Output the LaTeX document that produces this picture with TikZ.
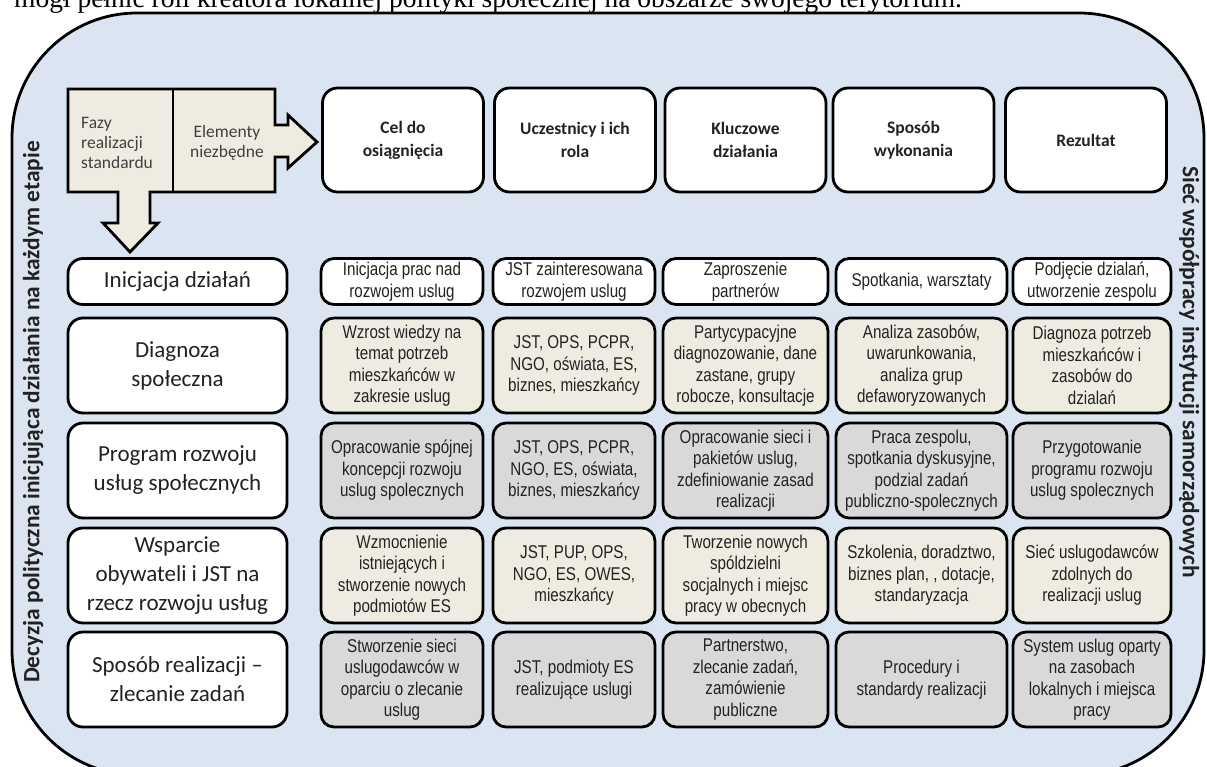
\documentclass[tikz,border=0pt]{standalone}
\usepackage{fontspec}
\setmainfont{Carlito}
\newfontfamily\narrowf[FakeStretch=0.82]{Liberation Sans}
\newfontfamily\seriff{Liberation Serif}
\definecolor{framebg}{HTML}{DBE5F1}
\definecolor{beige}{HTML}{EEECE1}
\definecolor{grayc}{HTML}{D9D9D9}
\definecolor{txt}{HTML}{222222}
\definecolor{fazytxt}{HTML}{404040}
\begin{document}
\begin{tikzpicture}[x=1pt,y=-1pt,
  box/.style={draw=black, line width=2.8pt, rounded corners=15pt, inner sep=0pt, align=center},
  lab/.style={box, fill=white, minimum width=219pt, font=\fontsize{23}{29}\selectfont, text=txt},
  hdr/.style={box, fill=white, minimum width=161pt, minimum height=104pt, font=\bfseries\fontsize{17.5}{23}\selectfont, text=txt},
  cell/.style={box, rounded corners=13pt, font=\narrowf\fontsize{18.5}{21.5}\selectfont, text=txt},
  cw/.style={cell, fill=white},
  cb/.style={cell, fill=beige},
  cg/.style={cell, fill=grayc},
  ca/.style={minimum width=162pt},
  cbw/.style={minimum width=162pt},
  ccw/.style={minimum width=165pt},
  cdw/.style={minimum width=171pt},
  cew/.style={minimum width=158pt},
  r1/.style={minimum height=46pt},
  rr/.style={minimum height=95pt},
  vtxt/.style={font=\bfseries\fontsize{23.4}{26}\selectfont, text=txt, inner sep=0pt}
]
\useasboundingbox (0,0) rectangle (1207,767);
\clip (0,0) rectangle (1207,767);

% outer frame
\draw[fill=framebg, line width=2.8pt, rounded corners=125pt] (12,13) rectangle (1204,775);

% clipped top text line
\node[anchor=base west, inner sep=0pt, font=\seriff\fontsize{27.5}{30}\selectfont] (toptext) at (14,8)
  {mógł pełnić roli kreatora lokalnej polityki społecznej na obszarze swojego terytorium.};

% vertical texts
\node[vtxt, rotate=90] (lefttxt) at (33,412) {Decyzja polityczna inicjująca działania na każdym etapie};
\node[vtxt, rotate=-90] (righttxt) at (1189,372) {Sieć współpracy instytucji samorządowych};

% Fazy / Elementy box with block arrows
\draw[fill=beige, line width=2.8pt, line join=miter]
  (68,89) -- (275,89) -- (275,125) -- (288,125) -- (288,115) -- (317,142) -- (288,168) -- (288,157)
  -- (275,157) -- (275,192) -- (150,192) -- (150,223) -- (158,223) -- (130,252) -- (103,223)
  -- (118,223) -- (118,192) -- (68,192) -- cycle;
\draw[line width=2.8pt] (173,89) -- (173,192);
\node[anchor=west, align=left, inner sep=0pt, font=\fontsize{17.5}{20}\selectfont, text=fazytxt] (fazy) at (81,143)
  {Fazy\\realizacji\\standardu};
\node[align=center, inner sep=0pt, font=\fontsize{17.5}{20}\selectfont, text=fazytxt] (elem) at (227,143)
  {Elementy\\niezbędne};

% header boxes
\node[hdr] (h1) at (403,140) {Cel do\\osiągnięcia};
\node[hdr] (h2) at (575,140) {Uczestnicy i ich\\rola};
\node[hdr] (h3) at (745.5,140) {Kluczowe\\działania};
\node[hdr] (h4) at (913.5,140) {Sposób\\wykonania};
\node[hdr] (h5) at (1086,140) {Rezultat};

% row labels
\node[lab, r1] (l1) at (177.5,281.5) {Inicjacja działań};
\node[lab, rr] (l2) at (177.5,365.5) {Diagnoza\\społeczna};
\node[lab, rr] (l3) at (177.5,470.5) {Program rozwoju\\usług społecznych};
\node[lab, rr] (l4) at (177.5,575.5) {Wsparcie\\obywateli i JST na\\rzecz rozwoju usług};
\node[lab, rr] (l5) at (177.5,679.5) {Sposób realizacji –\\zlecanie zadań};

% row 1
\node[cw, r1, ca]  (c11) at (402,281.5) {Inicjacja prac nad\\rozwojem uslug};
\node[cw, r1, cbw] (c12) at (574,281.5) {JST zainteresowana\\rozwojem uslug};
\node[cw, r1, ccw] (c13) at (745.5,281.5) {Zaproszenie\\partnerów};
\node[cw, r1, cdw] (c14) at (921.5,281.5) {Spotkania, warsztaty};
\node[cw, r1, cew] (c15) at (1092,281.5) {Podjęcie dzialań,\\utworzenie zespolu};

% row 2
\node[cb, rr, ca]  (c21) at (402,365.5) {Wzrost wiedzy na\\temat potrzeb\\mieszkańców w\\zakresie uslug};
\node[cb, rr, cbw] (c22) at (574,365.5) {JST, OPS, PCPR,\\NGO, oświata, ES,\\biznes, mieszkańcy};
\node[cb, rr, ccw] (c23) at (745.5,365.5) {Partycypacyjne\\diagnozowanie, dane\\zastane, grupy\\robocze, konsultacje};
\node[cb, rr, cdw] (c24) at (921.5,365.5) {Analiza zasobów,\\uwarunkowania,\\analiza grup\\defaworyzowanych};
\node[cb, rr, cew] (c25) at (1092,365.5) {Diagnoza potrzeb\\mieszkańców i\\zasobów do\\dzialań};

% row 3
\node[cg, rr, ca]  (c31) at (402,470.5) {Opracowanie spójnej\\koncepcji rozwoju\\uslug spolecznych};
\node[cg, rr, cbw] (c32) at (574,470.5) {JST, OPS, PCPR,\\NGO, ES, oświata,\\biznes, mieszkańcy};
\node[cg, rr, ccw] (c33) at (745.5,470.5) {Opracowanie sieci i\\pakietów uslug,\\zdefiniowanie zasad\\realizacji};
\node[cg, rr, cdw] (c34) at (921.5,470.5) {Praca zespolu,\\spotkania dyskusyjne,\\podzial zadań\\publiczno-spolecznych};
\node[cg, rr, cew] (c35) at (1092,470.5) {Przygotowanie\\programu rozwoju\\uslug spolecznych};

% row 4
\node[cb, rr, ca]  (c41) at (402,575.5) {Wzmocnienie\\istniejących i\\stworzenie nowych\\podmiotów ES};
\node[cb, rr, cbw] (c42) at (574,575.5) {JST, PUP, OPS,\\NGO, ES, OWES,\\mieszkańcy};
\node[cb, rr, ccw] (c43) at (745.5,575.5) {Tworzenie nowych\\spóldzielni\\socjalnych i miejsc\\pracy w obecnych};
\node[cb, rr, cdw] (c44) at (921.5,575.5) {Szkolenia, doradztwo,\\biznes plan, , dotacje,\\standaryzacja};
\node[cb, rr, cew] (c45) at (1092,575.5) {Sieć uslugodawców\\zdolnych do\\realizacji uslug};

% row 5
\node[cg, rr, ca]  (c51) at (402,679.5) {Stworzenie sieci\\uslugodawców w\\oparciu o zlecanie\\uslug};
\node[cg, rr, cbw] (c52) at (574,679.5) {JST, podmioty ES\\realizujące uslugi};
\node[cg, rr, ccw] (c53) at (745.5,679.5) {Partnerstwo,\\zlecanie zadań,\\zamówienie\\publiczne};
\node[cg, rr, cdw] (c54) at (921.5,679.5) {Procedury i\\standardy realizacji};
\node[cg, rr, cew] (c55) at (1092,679.5) {System uslug oparty\\na zasobach\\lokalnych i miejsca\\pracy};
\end{tikzpicture}
\end{document}
